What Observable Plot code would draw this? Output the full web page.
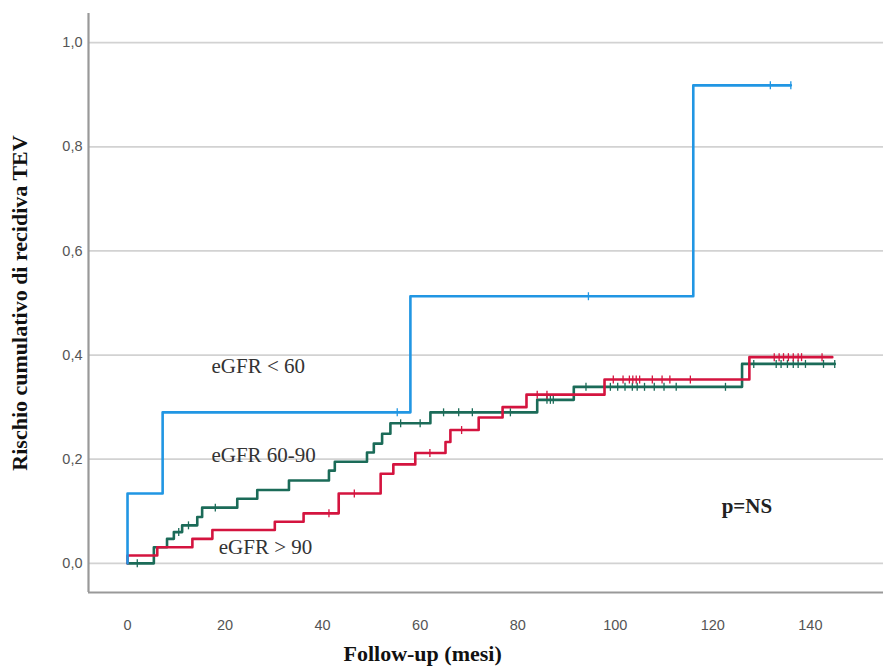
<!DOCTYPE html>
<html>
<head>
<meta charset="utf-8">
<script src="https://cdn.jsdelivr.net/npm/d3@7"></script>
<script src="https://cdn.jsdelivr.net/npm/@observablehq/plot@0.6"></script>
<style>
  html, body { margin: 0; padding: 0; background: #fff; }
  #chart svg [aria-label="y-axis label"] text {
    font-family: "Liberation Serif", "Times New Roman", serif;
    font-weight: bold;
    font-size: 22px;
    fill: #111;
  }
</style>
</head>
<body>
<div id="chart"></div>
<script>
// Cumulative incidence of recurrent VTE by eGFR group (Kaplan–Meier style steps)
const groups = ["eGFR < 60", "eGFR 60-90", "eGFR > 90"];

// eGFR < 60
const lowTimes  = [0, 0, 7.2, 58, 116];
const lowRisk   = [0, 0.134, 0.29, 0.513, 0.918];
const lowEnd    = 136;
const lowCensor = [55.3, 94.5, 131.8, 136];

// eGFR 60-90
const midTimes  = [0, 5.4, 8.1, 9.5, 11.2, 14.3, 15.3, 22.5, 26.6, 33.1, 41.3, 42.5, 49.1, 50.5, 52.2, 53.9, 62.1, 84, 91.5, 126];
const midRisk   = [0, 0.031, 0.047, 0.06, 0.073, 0.089, 0.107, 0.124, 0.141, 0.159, 0.178, 0.195, 0.213, 0.23, 0.249, 0.269, 0.29, 0.314, 0.339, 0.383];
const midEnd    = 145;
const midCensor = [2, 10.5, 12.5, 18, 56, 60, 64.8, 67.9, 70.7, 78.5, 86, 86.7, 87.3, 94, 99, 100.5, 102, 103.5, 104.5, 106, 108, 110, 112.5, 122.6, 128.4, 133, 134, 135.3, 136.5, 137.5, 139, 142.7, 145];

// eGFR > 90
const highTimes  = [0, 0, 6.1, 13.3, 17.4, 30.2, 36.1, 43.3, 51.9, 54.5, 59, 65.2, 66.2, 72, 76.9, 81.8, 97.8, 127.5];
const highRisk   = [0, 0.015, 0.031, 0.047, 0.064, 0.08, 0.096, 0.134, 0.172, 0.19, 0.212, 0.233, 0.256, 0.28, 0.30, 0.324, 0.353, 0.396];
const highEnd    = 144.5;
const highCensor = [41.3, 46.5, 62, 68.5, 84, 86, 99.6, 101.6, 102.9, 103.6, 104.3, 105, 107.6, 109.6, 111.2, 115.4, 132.6, 133.6, 134.5, 135.5, 136.5, 137.5, 138.2, 142.4];

const yTicks = [0, 0.2, 0.4, 0.6, 0.8, 1.0];
const xTicks = [0, 20, 40, 60, 80, 100, 120, 140];

const colors = { "eGFR < 60": "#2196e3", "eGFR 60-90": "#1b6b58", "eGFR > 90": "#d4143f" };

// Build step series: each event point, plus a final point at the last follow-up
function steps(group, times, risk, end) {
  const rows = times.map((t, i) => ({ group, t, v: risk[i] }));
  rows.push({ group, t: end, v: risk[risk.length - 1] });
  return rows;
}
// Censored observations sit on the curve level at their time
function censored(group, times, risk, list) {
  return list.map(t => {
    let v = 0;
    for (let i = 0; i < times.length; i++) if (times[i] <= t) v = risk[i];
    return { group, t, v };
  });
}

const curves = [
  ...steps(groups[1], midTimes, midRisk, midEnd),
  ...steps(groups[2], highTimes, highRisk, highEnd),
  ...steps(groups[0], lowTimes, lowRisk, lowEnd)
];
const marks = [
  ...censored(groups[1], midTimes, midRisk, midCensor),
  ...censored(groups[2], highTimes, highRisk, highCensor),
  ...censored(groups[0], lowTimes, lowRisk, lowCensor)
];

const vbar = {
  draw(context, size) {
    const r = Math.sqrt(size) / 2;
    context.moveTo(0, -r);
    context.lineTo(0, r);
  }
};

const comma = d => d3.format(".1f")(d).replace(".", ",");
const serif = "'Liberation Serif', 'Times New Roman', serif";

const chart = Plot.plot({
  width: 883,
  height: 668,
  marginLeft: 88,
  marginRight: 0,
  marginTop: 13,
  marginBottom: 76,
  style: { fontFamily: "'Liberation Sans', Arial, sans-serif", fontSize: "14.5px", color: "#555", background: "#fff" },
  x: { domain: [-8, 155], ticks: xTicks },
  y: { domain: [-0.056, 1.056], ticks: yTicks },
  marks: [
    Plot.gridY(yTicks, { stroke: "#d2d2d2", strokeOpacity: 1, strokeWidth: 1.8 }),
    Plot.axisY(yTicks, { tickSize: 0, tickPadding: 6, tickFormat: comma, label: "Rischio cumulativo di recidiva TEV", labelAnchor: "center", labelArrow: "none", labelOffset: 77 }),
    Plot.axisX(xTicks, { tickSize: 0, tickPadding: 27, label: null }),
    Plot.ruleX([-8], { stroke: "#999", strokeWidth: 2.2 }),
    Plot.ruleY([-0.056], { stroke: "#999", strokeWidth: 2.2 }),
    Plot.line(curves, { x: "t", y: "v", z: "group", stroke: d => colors[d.group], curve: "step-after", strokeWidth: 2.6 }),
    Plot.dot(marks, { x: "t", y: "v", stroke: d => colors[d.group], symbol: vbar, r: 4.5, strokeWidth: 1.3 }),
    Plot.text([groups[0]], { x: () => 26.8, y: () => 0.378, text: d => d, fontFamily: serif, fontSize: 21, fill: "#333" }),
    Plot.text([groups[1]], { x: () => 27.9, y: () => 0.207, text: d => d, fontFamily: serif, fontSize: 21, fill: "#333" }),
    Plot.text([groups[2]], { x: () => 28.3, y: () => 0.031, text: d => d, fontFamily: serif, fontSize: 21, fill: "#333" }),
    Plot.text(["p=NS"], { x: () => 127, y: () => 0.109, text: d => d, fontFamily: serif, fontSize: 21, fontWeight: "bold", fill: "#222" }),
    Plot.text(["Follow-up (mesi)"], { x: () => 60.5, frameAnchor: "bottom", dy: 68, text: d => d, fontFamily: serif, fontSize: 22, fontWeight: "bold", fill: "#111" })
  ]
});

document.getElementById("chart").appendChild(chart);
</script>
</body>
</html>
